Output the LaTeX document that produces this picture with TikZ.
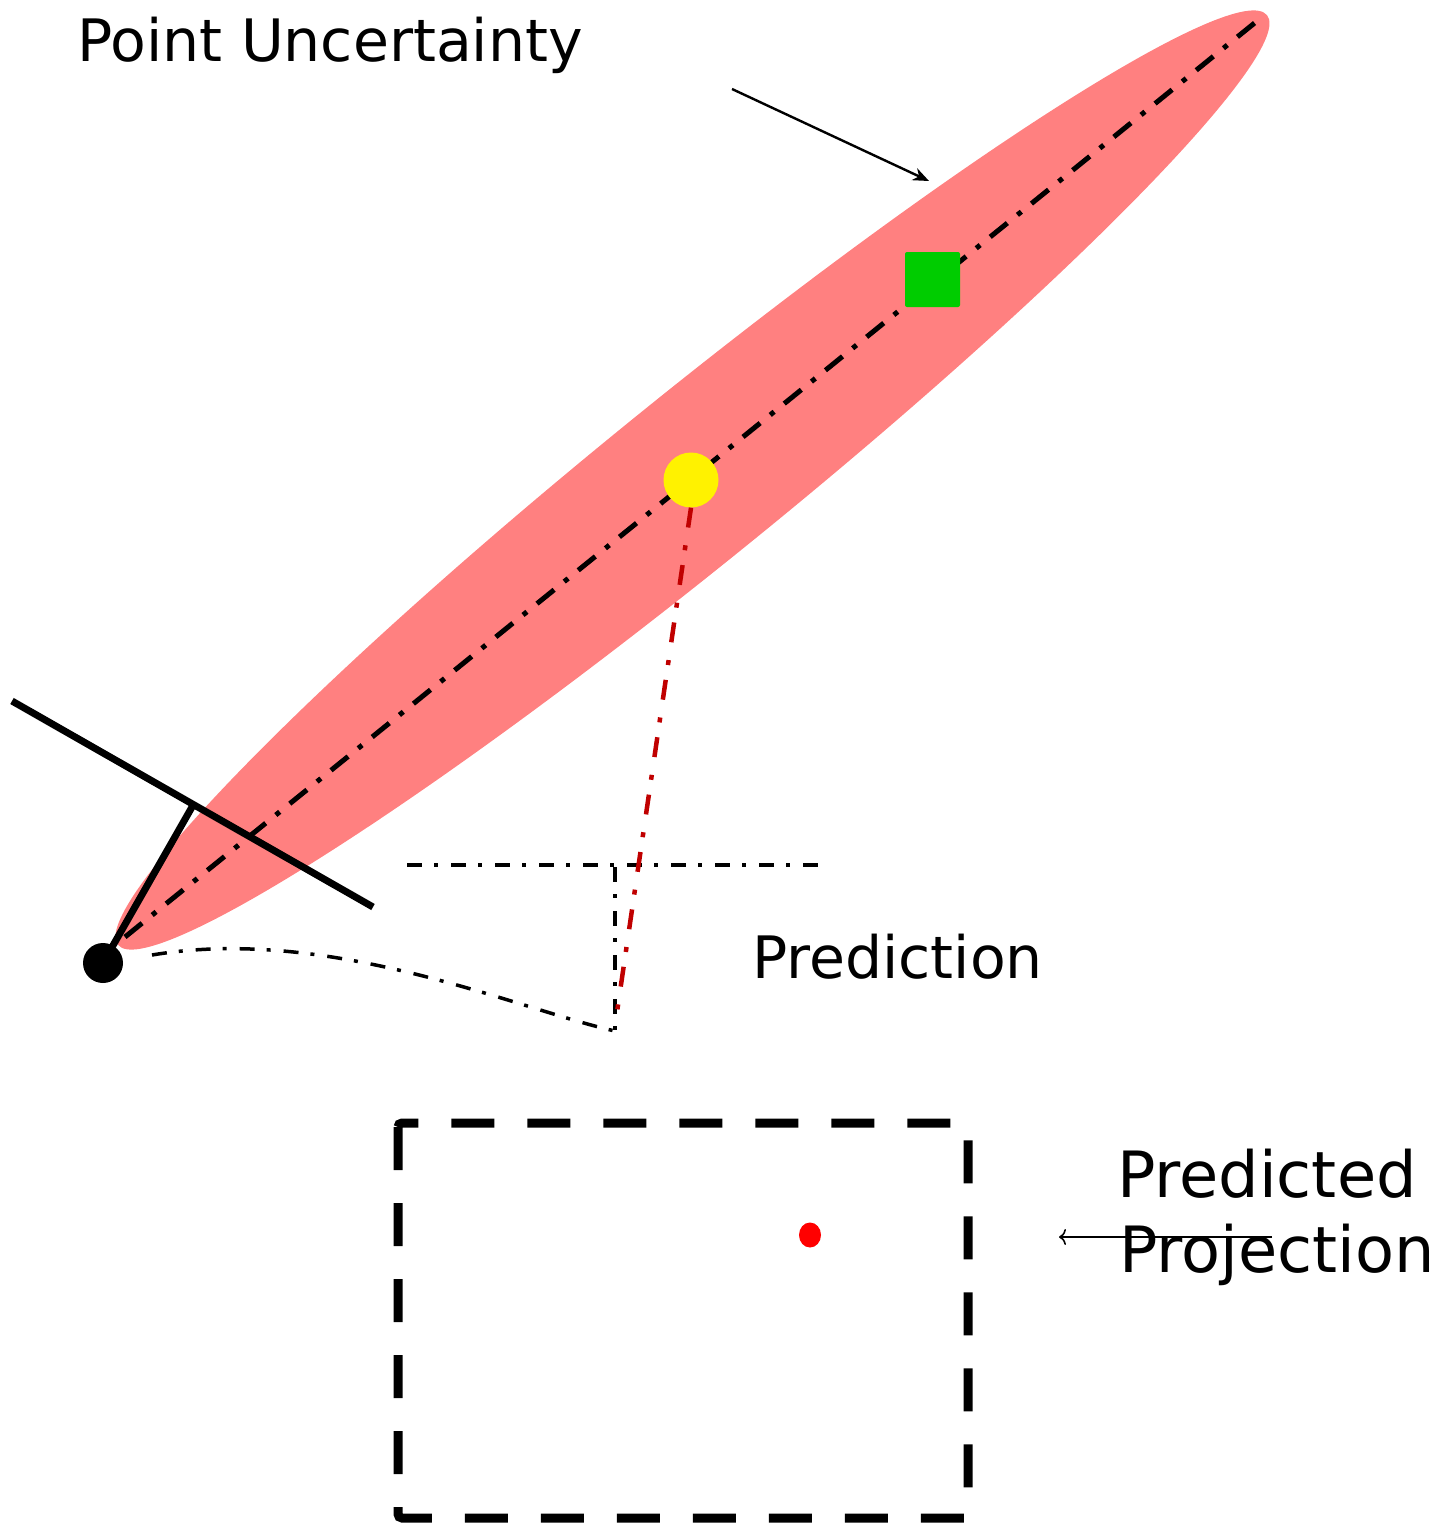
\documentclass[tikz,border=0pt]{standalone}
\usepackage{fontspec}
\setmainfont{DejaVu Sans}
\usetikzlibrary{arrows.meta,shapes.geometric}
\definecolor{pinkfill}{HTML}{FF8080}
\definecolor{darkred}{HTML}{C00000}
\definecolor{sqgreen}{HTML}{00CC00}
\tikzset{
  axisline/.style={line width=5pt, dash pattern=on 22pt off 13pt on 5pt off 13pt},
  thindashdot/.style={line width=3.2pt, dash pattern=on 15pt off 12pt on 4pt off 13pt},
  reddashdot/.style={line width=4.5pt, darkred, dash pattern=on 20pt off 18pt on 5pt off 15pt},
  camline/.style={line width=7pt},
  label/.style={font=\fontsize{58.5}{71}\selectfont, inner sep=0pt, anchor=base west},
  biglabel/.style={font=\fontsize{63.8}{75}\selectfont, inner sep=0pt, anchor=base west},
  pointer/.style={line width=2.4pt},
}
\begin{document}
\begin{tikzpicture}[x=1pt,y=-1pt]
\useasboundingbox (0,0) rectangle (1438,1526);
% uncertainty ellipse
\fill[pinkfill, rotate around={38.98:(692.5,480)}] (692.5,480) ellipse (739 and 85);
% axis
\coordinate (axA) at (125,937);
\coordinate (axB) at (1262,17);
\draw[axisline] (axA) -- (axB);
% camera
\coordinate (c1) at (12,701);
\coordinate (c2) at (373,907);
\coordinate (cj) at (192,807);
\node[circle, fill=black, minimum size=40pt, inner sep=0pt] (cam) at (103,963) {};
\draw[camline] (c1) -- (c2);
\draw[camline] (cam.center) -- (cj);
% yellow point and green square
\node[circle, fill=yellow, minimum size=55pt, inner sep=0pt] (pt) at (691,480) {};
\node[rectangle, fill=sqgreen, rounded corners=2pt, minimum size=55pt, inner sep=0pt] (sq) at (932.5,279.5) {};
% prediction
\coordinate (h1) at (407,865);
\coordinate (h2) at (822,865);
\coordinate (v1) at (615,867);
\coordinate (v2) at (615,1031);
\draw[thindashdot] (h1) -- (h2);
\draw[thindashdot] (v1) -- (v2);
\coordinate (cs) at (152,955);
\draw[thindashdot, line width=3.5pt] (cs) .. controls (330,925) and (520,1010) .. (v2);
\coordinate (rd) at (617,1012);
\draw[reddashdot] (pt.south) -- (rd);
% image plane
\draw[line width=9pt, dash pattern=on 43pt off 33pt, rounded corners=4pt] (398,1123) rectangle (968,1518);
\node[ellipse, fill=red, minimum width=22pt, minimum height=25pt, inner sep=0pt] (proj) at (810,1235) {};
% labels
\node[label] (lpu) at (77,61) {Point Uncertainty};
\node[label] (lpred) at (752,978) {Prediction};
\node[biglabel] (lpp1) at (1117,1197) {Predicted};
\node[biglabel] (lpp2) at (1119,1272) {Projection};
% pointers
\coordinate (a1) at (732,89);
\coordinate (a2) at (929,181);
\draw[pointer, -{Stealth[length=16pt, width=13pt, inset=5pt]}] (a1) -- (a2);
\coordinate (b1) at (1272,1237);
\coordinate (b2) at (1059,1237);
\draw[line width=1.6pt, -{To[length=7pt, width=16pt]}] (b1) -- (b2);
\end{tikzpicture}
\end{document}
